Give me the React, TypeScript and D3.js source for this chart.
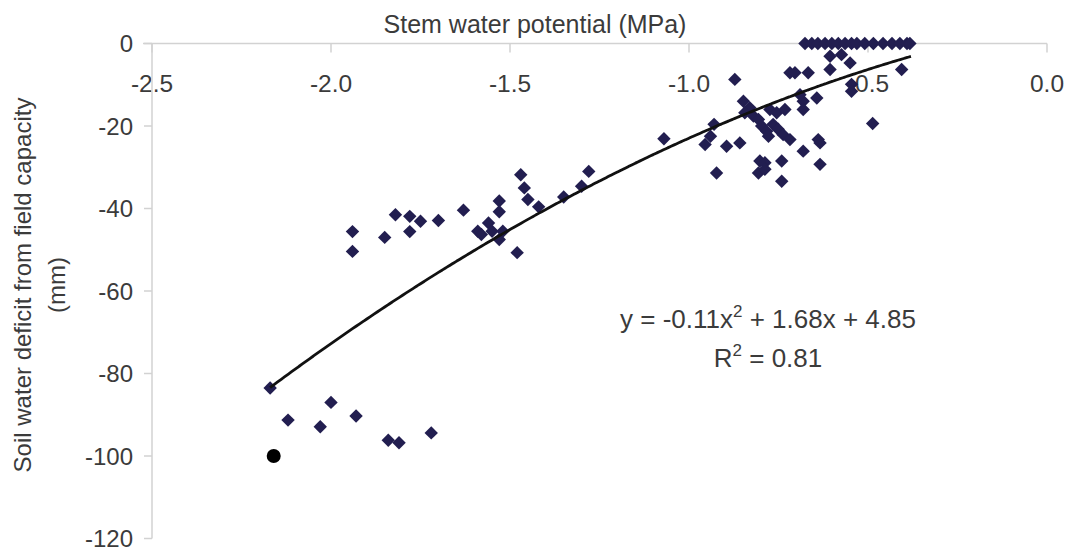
import React from "react";
import * as d3 from "d3";

// Stem water potential (MPa) vs soil water deficit from field capacity (mm)
const potentialMPa: number[] = [
  // driest measurements
  -2.17, -2.12, -2.03, -2.0, -1.93, -1.84, -1.81, -1.72,
  // mid-range group
  -1.94, -1.94, -1.85, -1.82, -1.78, -1.78, -1.75, -1.7, -1.63, -1.59, -1.58,
  -1.56, -1.55, -1.53, -1.53, -1.53, -1.52, -1.48, -1.45, -1.47, -1.46, -1.42,
  -1.35, -1.3, -1.28, -1.07,
  // wetter cluster
  -0.93, -0.94, -0.955, -0.895, -0.858, -0.923, -0.872, -0.848, -0.83, -0.844,
  -0.82, -0.806, -0.797, -0.783, -0.778, -0.765, -0.751, -0.737, -0.718, -0.774,
  -0.755, -0.732, -0.681, -0.681, -0.69, -0.643, -0.681, -0.639, -0.634, -0.634,
  -0.802, -0.788, -0.806, -0.788, -0.741, -0.741, -0.718, -0.704, -0.667, -0.606,
  -0.606, -0.574, -0.55, -0.546, -0.546, -0.406, -0.487,
  // at field capacity
  -0.676, -0.657, -0.64, -0.62, -0.601, -0.583, -0.564, -0.546, -0.531, -0.509,
  -0.485, -0.458, -0.433, -0.411, -0.391, -0.383,
];

const deficitMm: number[] = [
  -83.5, -91.3, -92.9, -87.0, -90.3, -96.2, -96.8, -94.4,
  -45.6, -50.4, -47.0, -41.5, -41.9, -45.6, -43.1, -42.9, -40.4, -45.5, -46.3,
  -43.5, -45.5, -38.2, -40.8, -47.5, -45.5, -50.7, -37.8, -31.8, -35.0, -39.6,
  -37.2, -34.6, -31.0, -23.1,
  -19.6, -22.5, -24.5, -24.9, -24.1, -31.4, -8.7, -14.0, -15.6, -16.8,
  -17.6, -18.4, -20.0, -21.3, -22.5, -19.6, -20.8, -22.1, -23.3, -16.0,
  -16.8, -16.0, -14.0, -16.0, -12.4, -13.2, -26.1, -23.3, -24.1, -29.3,
  -28.5, -28.9, -31.4, -30.5, -28.5, -33.4, -7.1, -7.1, -7.1, -6.3,
  -3.1, -2.7, -4.7, -9.9, -11.6, -6.3, -19.4,
  0, 0, 0, 0, 0, 0, 0, 0, 0, 0,
  0, 0, 0, 0, 0, 0,
];

// Separately marked observation
const markedPotential: number[] = [-2.16];
const markedDeficit: number[] = [-100];

// Quadratic fit; the regression was computed with potential in bars
const fitA = -0.11;
const fitB = 1.68;
const fitC = 4.85;
const barsPerMPa = 10;
const fitFrom = -2.17;
const fitTo = -0.38;

const xTicks: number[] = [-2.5, -2.0, -1.5, -1.0, -0.5, 0.0];
const yTicks: number[] = [0, -20, -40, -60, -80, -100, -120];

const xTitle = "Stem water potential (MPa)";
const yTitleLine1 = "Soil water deficit from field capacity";
const yTitleLine2 = "(mm)";

const W = 1067;
const H = 551;
const FONT = "'Liberation Sans', Arial, sans-serif";
const TEXT = "#3b3b3b";
const AXIS = "#d2d2d2";
const MARK = "#221e50";

export default function App() {
  const x = d3.scaleLinear().domain([-2.5, 0]).range([152, 1047]);
  const y = d3.scaleLinear().domain([-120, 0]).range([538.5, 43.5]);

  const fit = (mpa: number) => {
    const b = mpa * barsPerMPa;
    return fitA * b * b + fitB * b + fitC;
  };
  const fitXs = d3.range(fitFrom, fitTo + 1e-9, 0.01).concat([fitTo]);
  const fitPath = d3
    .line<number>()
    .x((v) => x(v))
    .y((v) => y(fit(v)))
    .curve(d3.curveMonotoneX)(fitXs) as string;

  const diamond = d3.symbol(d3.symbolSquare, 90)() as string;
  const points = potentialMPa.map((p, i) => ({ p, d: deficitMm[i] }));

  return (
    <svg
      width={W}
      height={H}
      style={{ position: "absolute", left: 0, top: 0, background: "#fff" }}
      fontFamily={FONT}
    >
      <rect width={W} height={H} fill="#fff" />

      {/* x axis along the zero line */}
      <line x1={143} x2={x(0)} y1={y(0)} y2={y(0)} stroke={AXIS} strokeWidth={1.5} />
      {xTicks.map((t) => (
        <g key={`xt${t}`}>
          <line x1={x(t)} x2={x(t)} y1={y(0)} y2={y(0) + 9} stroke={AXIS} strokeWidth={1.5} />
          <text
            x={x(t)}
            y={92}
            textAnchor="middle"
            fontSize={24.5}
            fill={TEXT}
          >
            {t.toFixed(1)}
          </text>
        </g>
      ))}

      {/* y axis */}
      <line x1={x(-2.5)} x2={x(-2.5)} y1={y(0)} y2={y(-120)} stroke={AXIS} strokeWidth={1.5} />
      {yTicks.map((t) => (
        <g key={`yt${t}`}>
          <line x1={x(-2.5) - 8} x2={x(-2.5)} y1={y(t)} y2={y(t)} stroke={AXIS} strokeWidth={1.5} />
          <text
            x={133}
            y={y(t) + 8.5}
            textAnchor="end"
            fontSize={24}
            fill={TEXT}
          >
            {t}
          </text>
        </g>
      ))}

      {/* axis titles */}
      <text x={535} y={33} textAnchor="middle" fontSize={25} fill={TEXT}>
        {xTitle}
      </text>
      <text
        transform={`translate(31, 285) rotate(-90)`}
        textAnchor="middle"
        fontSize={24}
        fill={TEXT}
      >
        {yTitleLine1}
      </text>
      <text
        transform={`translate(65, 285) rotate(-90)`}
        textAnchor="middle"
        fontSize={24}
        fill={TEXT}
      >
        {yTitleLine2}
      </text>

      {/* observations */}
      {points.map((pt, i) => (
        <path
          key={`p${i}`}
          d={diamond}
          transform={`translate(${x(pt.p)}, ${y(pt.d)}) rotate(45)`}
          fill={MARK}
        />
      ))}
      {markedPotential.map((p, i) => (
        <circle key={`m${i}`} cx={x(p)} cy={y(markedDeficit[i])} r={7} fill="#000" />
      ))}

      {/* fitted curve */}
      <path d={fitPath} fill="none" stroke="#111" strokeWidth={2.8} />

      {/* regression annotation */}
      <text x={768} y={328} textAnchor="middle" fontSize={26} fill={TEXT}>
        <tspan>y = -0.11x</tspan>
        <tspan fontSize={17} dy={-11}>2</tspan>
        <tspan dy={11}> + 1.68x + 4.85</tspan>
      </text>
      <text x={768} y={367} textAnchor="middle" fontSize={26} fill={TEXT}>
        <tspan>R</tspan>
        <tspan fontSize={17} dy={-11}>2</tspan>
        <tspan dy={11}> = 0.81</tspan>
      </text>
    </svg>
  );
}
